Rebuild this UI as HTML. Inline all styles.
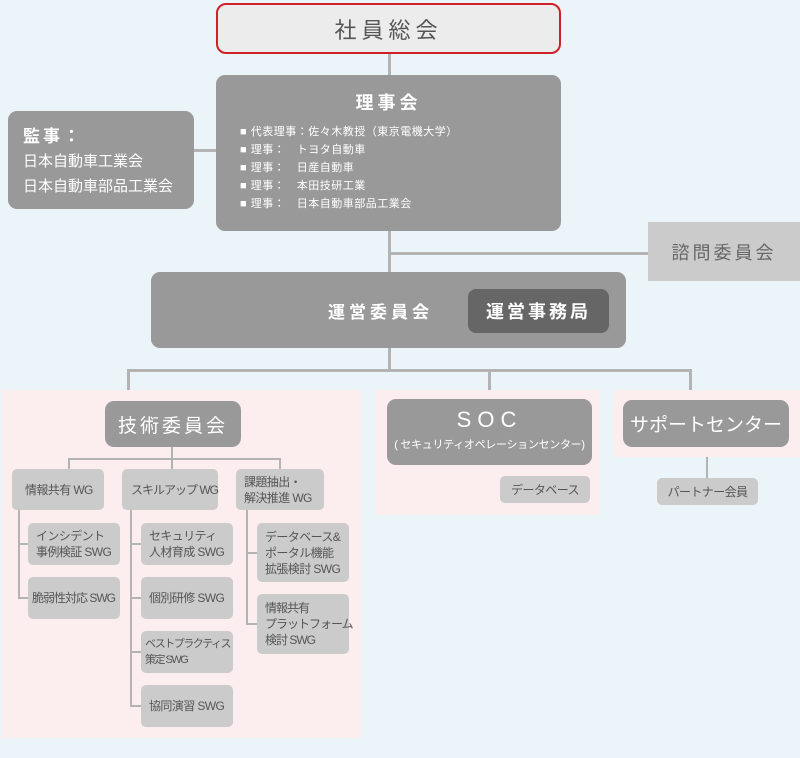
<!DOCTYPE html>
<html><head><meta charset="utf-8"><style>
body{margin:0;width:800px;height:758px;background:#ebf4f8;position:relative;overflow:hidden;font-family:"Liberation Sans","Noto Sans CJK JP",sans-serif}
div{position:absolute;box-sizing:border-box}
.l{background:#b3b3b3}
.g{background:#999;border-radius:9px;color:#fff}
.s{background:#cbcbcb;border-radius:5px;color:#555;font-size:12px;line-height:16px;padding:0 0 0 8px;display:flex;align-items:center;white-space:nowrap;letter-spacing:-0.6px}
.pk{background:#fcedef}
.c{display:flex;align-items:center;justify-content:center;text-align:center}
</style></head><body>
<div class="pk" style="left:2px;top:390px;width:359px;height:348px"></div>
<div class="pk" style="left:376px;top:390px;width:224px;height:125px"></div>
<div class="pk" style="left:613px;top:390px;width:187px;height:67px"></div>

<!-- lines -->
<div class="l" style="left:388px;top:52px;width:3px;height:318px"></div>
<div class="l" style="left:194px;top:149px;width:24px;height:3px"></div>
<div class="l" style="left:389px;top:252px;width:260px;height:3px"></div>
<div class="l" style="left:127px;top:369px;width:565px;height:3px"></div>
<div class="l" style="left:127px;top:369px;width:3px;height:21px"></div>
<div class="l" style="left:488px;top:369px;width:3px;height:21px"></div>
<div class="l" style="left:689px;top:369px;width:3px;height:21px"></div>
<div class="l" style="left:171px;top:445px;width:2px;height:14px"></div>
<div class="l" style="left:68px;top:458px;width:213px;height:2px"></div>
<div class="l" style="left:68px;top:458px;width:2px;height:12px"></div>
<div class="l" style="left:171px;top:458px;width:2px;height:12px"></div>
<div class="l" style="left:279px;top:458px;width:2px;height:12px"></div>
<div class="l" style="left:18px;top:508px;width:2px;height:91px"></div>
<div class="l" style="left:18px;top:543px;width:12px;height:2px"></div>
<div class="l" style="left:18px;top:597px;width:12px;height:2px"></div>
<div class="l" style="left:130px;top:508px;width:2px;height:199px"></div>
<div class="l" style="left:130px;top:543px;width:12px;height:2px"></div>
<div class="l" style="left:130px;top:597px;width:12px;height:2px"></div>
<div class="l" style="left:130px;top:651px;width:12px;height:2px"></div>
<div class="l" style="left:130px;top:705px;width:12px;height:2px"></div>
<div class="l" style="left:246px;top:508px;width:2px;height:117px"></div>
<div class="l" style="left:246px;top:552px;width:12px;height:2px"></div>
<div class="l" style="left:246px;top:623px;width:12px;height:2px"></div>
<div class="l" style="left:706px;top:457px;width:2px;height:21px"></div>

<!-- top -->
<div class="c" style="left:216px;top:3px;width:345px;height:51px;background:#ececec;border:2px solid #d0202a;border-radius:10px;color:#555;font-size:22px;letter-spacing:5px">社員総会</div>
<div class="g" style="left:216px;top:75px;width:345px;height:156px">
 <div style="left:0;top:14px;width:100%;text-align:center;font-size:18px;font-weight:bold;letter-spacing:4px">理事会</div>
 <div style="left:24px;top:48px;font-size:11px;line-height:18px;letter-spacing:0.5px;white-space:pre">■ 代表理事：佐々木教授（東京電機大学）
■ 理事：　トヨタ自動車
■ 理事：　日産自動車
■ 理事：　本田技研工業
■ 理事：　日本自動車部品工業会</div>
</div>
<div class="g" style="left:8px;top:111px;width:186px;height:98px;padding:13px 0 0 15px;font-size:15px;line-height:25px">
 <div style="position:static;font-size:17px;font-weight:bold;letter-spacing:3px">監事：</div>日本自動車工業会<br>日本自動車部品工業会</div>
<div class="c" style="left:648px;top:222px;width:152px;height:59px;background:#cbcbcb;color:#666;font-size:18px;letter-spacing:3px">諮問委員会</div>

<div class="g" style="left:151px;top:272px;width:475px;height:76px"></div>
<div style="left:328px;top:298px;color:#fff;font-size:17px;font-weight:bold;letter-spacing:4px">運営委員会</div>
<div class="c" style="left:468px;top:289px;width:141px;height:44px;background:#666;border-radius:8px;color:#fff;font-size:18px;font-weight:bold;letter-spacing:3px">運営事務局</div>

<!-- technical -->
<div class="g c" style="left:105px;top:401px;width:136px;height:46px;font-size:19px;letter-spacing:3px">技術委員会</div>
<div class="s" style="left:12px;top:469px;width:92px;height:41px;padding-left:13px">情報共有 WG</div>
<div class="s" style="left:122px;top:469px;width:96px;height:41px;padding-left:9px;letter-spacing:-1px">スキルアップ WG</div>
<div class="s" style="left:236px;top:469px;width:88px;height:41px">課題抽出・<br>解決推進 WG</div>
<div class="s" style="left:28px;top:523px;width:92px;height:42px">インシデント<br>事例検証 SWG</div>
<div class="s" style="left:28px;top:577px;width:92px;height:42px;padding-left:4px;letter-spacing:-1px">脆弱性対応 SWG</div>
<div class="s" style="left:141px;top:523px;width:92px;height:42px">セキュリティ<br>人材育成 SWG</div>
<div class="s" style="left:141px;top:577px;width:92px;height:42px">個別研修 SWG</div>
<div class="s" style="left:141px;top:631px;width:92px;height:42px;padding-left:4px;font-size:11px;letter-spacing:-1.5px">ベストプラクティス<br>策定 SWG</div>
<div class="s" style="left:141px;top:685px;width:92px;height:42px">協同演習 SWG</div>
<div class="s" style="left:257px;top:523px;width:92px;height:59px">データベース&amp;<br>ポータル機能<br>拡張検討 SWG</div>
<div class="s" style="left:257px;top:594px;width:92px;height:60px;letter-spacing:-1px">情報共有<br>プラットフォーム<br>検討 SWG</div>

<!-- SOC -->
<div class="g" style="left:387px;top:399px;width:205px;height:66px;text-align:center">
 <div style="left:0;top:8px;width:100%;font-size:22px;letter-spacing:6px">SOC</div>
 <div style="left:0;top:37px;width:100%;font-size:11px;letter-spacing:-0.3px">( セキュリティオペレーションセンター)</div>
</div>
<div class="s c" style="left:500px;top:476px;width:90px;height:27px;padding:0">データベース</div>
<div class="g c" style="left:623px;top:400px;width:166px;height:47px;font-size:19px">サポートセンター</div>
<div class="s c" style="left:657px;top:478px;width:101px;height:27px;padding:0">パートナー会員</div>
</body></html>
